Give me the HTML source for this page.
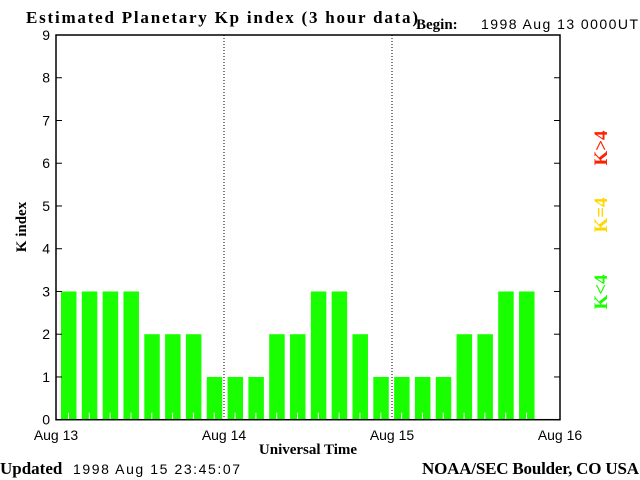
<!DOCTYPE html>
<html><head><meta charset="utf-8"><style>
body{margin:0;background:#fff;}
svg{display:block;}
.s{font-family:"Liberation Sans",sans-serif;font-size:14px;}
.b{font-family:"Liberation Serif",serif;font-size:15px;font-weight:bold;}
.t{font-family:"Liberation Serif",serif;font-size:17px;font-weight:bold;}
.lg{font-family:"Liberation Serif",serif;font-size:19px;font-weight:bold;}
</style></head><body>
<svg id="c" width="640" height="480" xmlns="http://www.w3.org/2000/svg">
<text class="t" x="26" y="23" textLength="392">Estimated Planetary Kp index (3 hour data)</text>
<text class="b" x="416" y="29">Begin:</text>
<text class="s" x="481" y="29" textLength="157">1998 Aug 13 0000UT</text>
<text class="t" x="0" y="474">Updated</text>
<text class="s" x="73" y="474" textLength="167">1998 Aug 15 23:45:07</text>
<text class="t" x="422" y="474" textLength="217">NOAA/SEC Boulder, CO USA</text>
<text class="b" x="308" y="454" text-anchor="middle">Universal Time</text>
<text class="b" transform="translate(26,227) rotate(-90)" text-anchor="middle">K index</text>
<text class="lg" transform="translate(607,292) rotate(-90)" text-anchor="middle" fill="#1aff00">K&lt;4</text>
<text class="lg" transform="translate(607,215) rotate(-90)" text-anchor="middle" fill="#ffd700">K=4</text>
<text class="lg" transform="translate(607,148) rotate(-90)" text-anchor="middle" fill="#ff2000">K&gt;4</text>
<g id="g"></g>
</svg>
<script>
const kpValues=[3,3,3,3,2,2,2,1,1,1,2,2,3,3,2,1,1,1,1,2,2,3,3];
const yTicks=[0,1,2,3,4,5,6,7,8,9];
const dayLabels=["Aug 13","Aug 14","Aug 15","Aug 16"];
const L=56,R=560,T=35,B=419.7;
const x=i=>L+(R-L)*i/24;
const y=v=>B-(B-T)*v/9;
const bx=i=>61+20.82*i;
const g=document.getElementById('g');
const NS='http://www.w3.org/2000/svg';
function mk(t,a){const e=document.createElementNS(NS,t);for(const k in a)e.setAttribute(k,a[k]);g.appendChild(e);return e;}
kpValues.forEach((v,i)=>{
 const col=v<4?'#1aff00':(v==4?'#ffd700':'#ff2000');
 const r=mk('rect',{x:bx(i),y:y(v),width:15.5,height:B-y(v),fill:col});
 
 
 const t=mk('line',{x1:bx(i)+7.5,x2:bx(i)+7.5,y1:B,y2:B-7,stroke:'#fff'});
 
 
});
[1,2].forEach(d=>{
 const l=mk('line',{x1:x(d*8),x2:x(d*8),y1:T,y2:B,stroke:'#000','stroke-dasharray':'1,2'});
 
 
});
const f=mk('rect',{x:L,y:T,width:R-L,height:B-T,fill:'none',stroke:'#000','stroke-width':1.5});


yTicks.forEach(v=>{
 const a=mk('line',{x1:L,x2:L+6,y1:y(v),y2:y(v),stroke:'#000'});
 
 
 const b=mk('line',{x1:R,x2:R-6,y1:y(v),y2:y(v),stroke:'#000'});
 
 
 const t=mk('text',{x:50,y:y(v)+5,'text-anchor':'end',class:'s'});
 t.textContent=v;
 
 
});
dayLabels.forEach((d,i)=>{
 const t=mk('text',{x:x(i*8),y:440,'text-anchor':'middle',class:'s'});
 t.textContent=d;
 
 
});
</script>
</body></html>
